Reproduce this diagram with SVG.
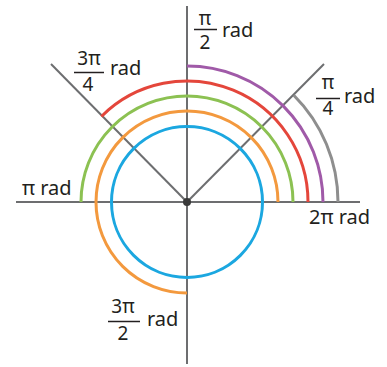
<svg xmlns="http://www.w3.org/2000/svg" width="387" height="367" viewBox="0 0 387 367">
<style>
.ax{stroke:#6d6e70;stroke-width:2;fill:none}
.arc{fill:none;stroke-width:3}
text{font-family:"Noto Sans","Open Sans",sans-serif;font-size:20px;fill:#231f20}
.f{font-size:19px}
.m{text-anchor:middle}
.bar{stroke:#231f20;stroke-width:1.5}
</style>
<rect width="387" height="367" fill="#fff"/>
<g id="connectors">
<line class="ax" x1="16" y1="202" x2="360" y2="202"/>
<line class="ax" x1="187" y1="6" x2="187" y2="364"/>
<line class="ax" x1="51" y1="64" x2="187" y2="202"/>
<line class="ax" x1="324" y1="64" x2="187" y2="202"/>
</g>
<g id="arcs">
<circle class="arc" cx="187" cy="202" r="75.5" stroke="#1ba7e0"/>
<path class="arc" stroke="#f3993e" d="M278,202 A91,91 0 1 0 187,293"/>
<path class="arc" stroke="#8cc152" d="M293,202 A106,106 0 0 0 81,202"/>
<path class="arc" stroke="#e4463b" d="M308,202 A121,121 0 0 0 101.44,116.44"/>
<path class="arc" stroke="#a05aa8" d="M323,202 A136,136 0 0 0 187,66"/>
<path class="arc" stroke="#8e8e8e" d="M338,202 A151,151 0 0 0 293.77,95.23"/>
</g>
<g id="center"><circle cx="187" cy="202" r="4" fill="#3a3a3a"/></g>
<g id="label-pi2">
<text class="m f" x="205" y="25">π</text>
<line class="bar" x1="194" y1="29.5" x2="217" y2="29.5"/>
<text class="m f" x="205" y="49">2</text>
<text x="222" y="37">rad</text>
</g>
<g id="label-3pi4">
<text class="m f" x="89" y="65">3π</text>
<line class="bar" x1="74" y1="72.5" x2="104" y2="72.5"/>
<text class="m f" x="88" y="91">4</text>
<text x="110" y="75">rad</text>
</g>
<g id="label-pi4">
<text class="m f" x="328" y="89">π</text>
<line class="bar" x1="316" y1="98.5" x2="340" y2="98.5"/>
<text class="m f" x="328" y="115">4</text>
<text x="344" y="103">rad</text>
</g>
<g id="label-pi"><text x="22" y="195">π rad</text></g>
<g id="label-2pi"><text x="309" y="224">2π rad</text></g>
<g id="label-3pi2">
<text class="m f" x="123" y="313">3π</text>
<line class="bar" x1="108" y1="321.5" x2="140" y2="321.5"/>
<text class="m f" x="123" y="340">2</text>
<text x="147" y="326">rad</text>
</g>
</svg>
